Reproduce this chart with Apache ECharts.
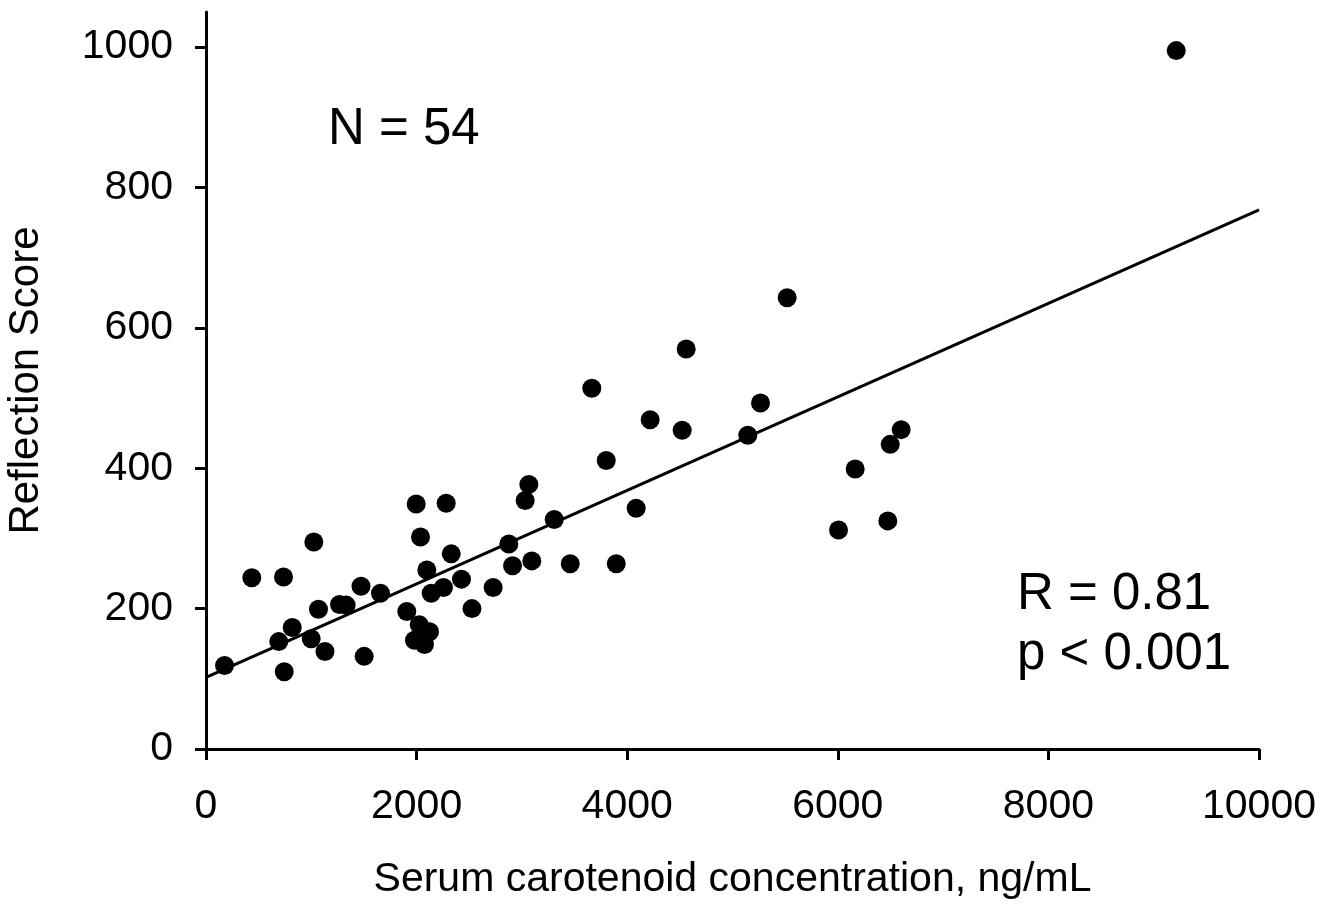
<!DOCTYPE html>
<html>
<head>
<meta charset="utf-8">
<script src="https://cdn.jsdelivr.net/npm/echarts@6/dist/echarts.min.js"></script>
<style>
html,body{margin:0;padding:0;background:#fff;}
#chart{width:1339px;height:906px;}
</style>
</head>
<body>
<div id="chart"></div>
<script>
// Serum carotenoid concentration (ng/mL)
var serumX = [176, 435, 736, 691, 743, 819, 999, 1024, 1068, 1130,
  1268, 1331, 1472, 1502, 1657, 1907, 1996, 2037, 2097, 2139,
  2255, 2281, 2329, 2426, 2526, 2025, 2123, 1980, 2075, 2727,
  2876, 2911, 3031, 3066, 3094, 3307, 3459, 3664, 3801, 3896,
  4085, 4218, 4522, 4560, 5145, 5266, 5519, 6007, 6165, 6475,
  6498, 6602, 9214];
// Reflection score
var reflectionY = [119, 244, 245, 153, 110, 173, 157, 295, 199, 139,
  206, 205, 232, 132, 222, 196, 349, 302, 255, 222,
  230, 350, 278, 242, 200, 177, 167, 155, 149, 230,
  292, 261, 354, 377, 268, 327, 264, 514, 411, 264,
  343, 469, 454, 570, 447, 493, 643, 312, 399, 325,
  434, 455, 995];
// Regression line end points
var fitX = [0, 10000];
var fitY = [102, 768];
// Tick values
var xTicks = [0, 2000, 4000, 6000, 8000, 10000];
var yTicks = [0, 200, 400, 600, 800, 1000];

var nText = 'N = 54';
var rText = 'R = 0.81';
var pText = 'p < 0.001';

var font = '"Liberation Sans", Arial, sans-serif';

var points = serumX.map(function (x, i) { return [x, reflectionY[i]]; });
var fitLine = fitX.map(function (x, i) { return [x, fitY[i]]; });
var plain = function (v) { return String(v); };

var chart = echarts.init(document.getElementById('chart'), null, {renderer: 'canvas'});
chart.setOption({
  backgroundColor: '#ffffff',
  animation: false,
  grid: {left: 206, right: 80, top: 12, bottom: 157, containLabel: false, outerBoundsMode: 'none'},
  xAxis: {
    type: 'value', min: 0, max: 10000, interval: 2000,
    splitLine: {show: false},
    axisLine: {show: true, onZero: false, lineStyle: {color: '#000', width: 3}},
    axisTick: {show: true, inside: false, length: 11, lineStyle: {color: '#000', width: 3}, customValues: xTicks},
    axisLabel: {color: '#000', fontSize: 41, fontFamily: font, margin: 37, customValues: xTicks, formatter: plain},
    name: 'Serum carotenoid concentration, ng/mL',
    nameLocation: 'middle', nameGap: 110,
    nameTextStyle: {color: '#000', fontSize: 41, fontFamily: font}
  },
  yAxis: {
    type: 'value', min: 0, max: 1050, interval: 200,
    splitLine: {show: false},
    axisLine: {show: true, onZero: false, lineStyle: {color: '#000', width: 3}},
    axisTick: {show: true, inside: false, length: 11, lineStyle: {color: '#000', width: 3}, customValues: yTicks},
    axisLabel: {color: '#000', fontSize: 41, fontFamily: font, margin: 33, customValues: yTicks, formatter: plain},
    name: 'Reflection Score',
    nameLocation: 'middle', nameGap: 159, nameRotate: 90,
    nameTextStyle: {color: '#000', fontSize: 42, fontFamily: font}
  },
  series: [
    {
      type: 'line', data: fitLine, symbol: 'none', silent: true,
      lineStyle: {color: '#000', width: 3}, z: 2
    },
    {
      type: 'scatter', data: points, symbol: 'circle', symbolSize: 19,
      itemStyle: {color: '#000', opacity: 1}, z: 3
    }
  ],
  graphic: [
    {type: 'text', left: 328, top: 104, style: {text: nText, font: '51px ' + font, fill: '#000'}},
    {type: 'text', left: 1017, top: 569, style: {text: rText, font: '51px ' + font, fill: '#000'}},
    {type: 'text', left: 1017, top: 629, style: {text: pText, font: '51px ' + font, fill: '#000'}}
  ]
});
</script>
</body>
</html>
